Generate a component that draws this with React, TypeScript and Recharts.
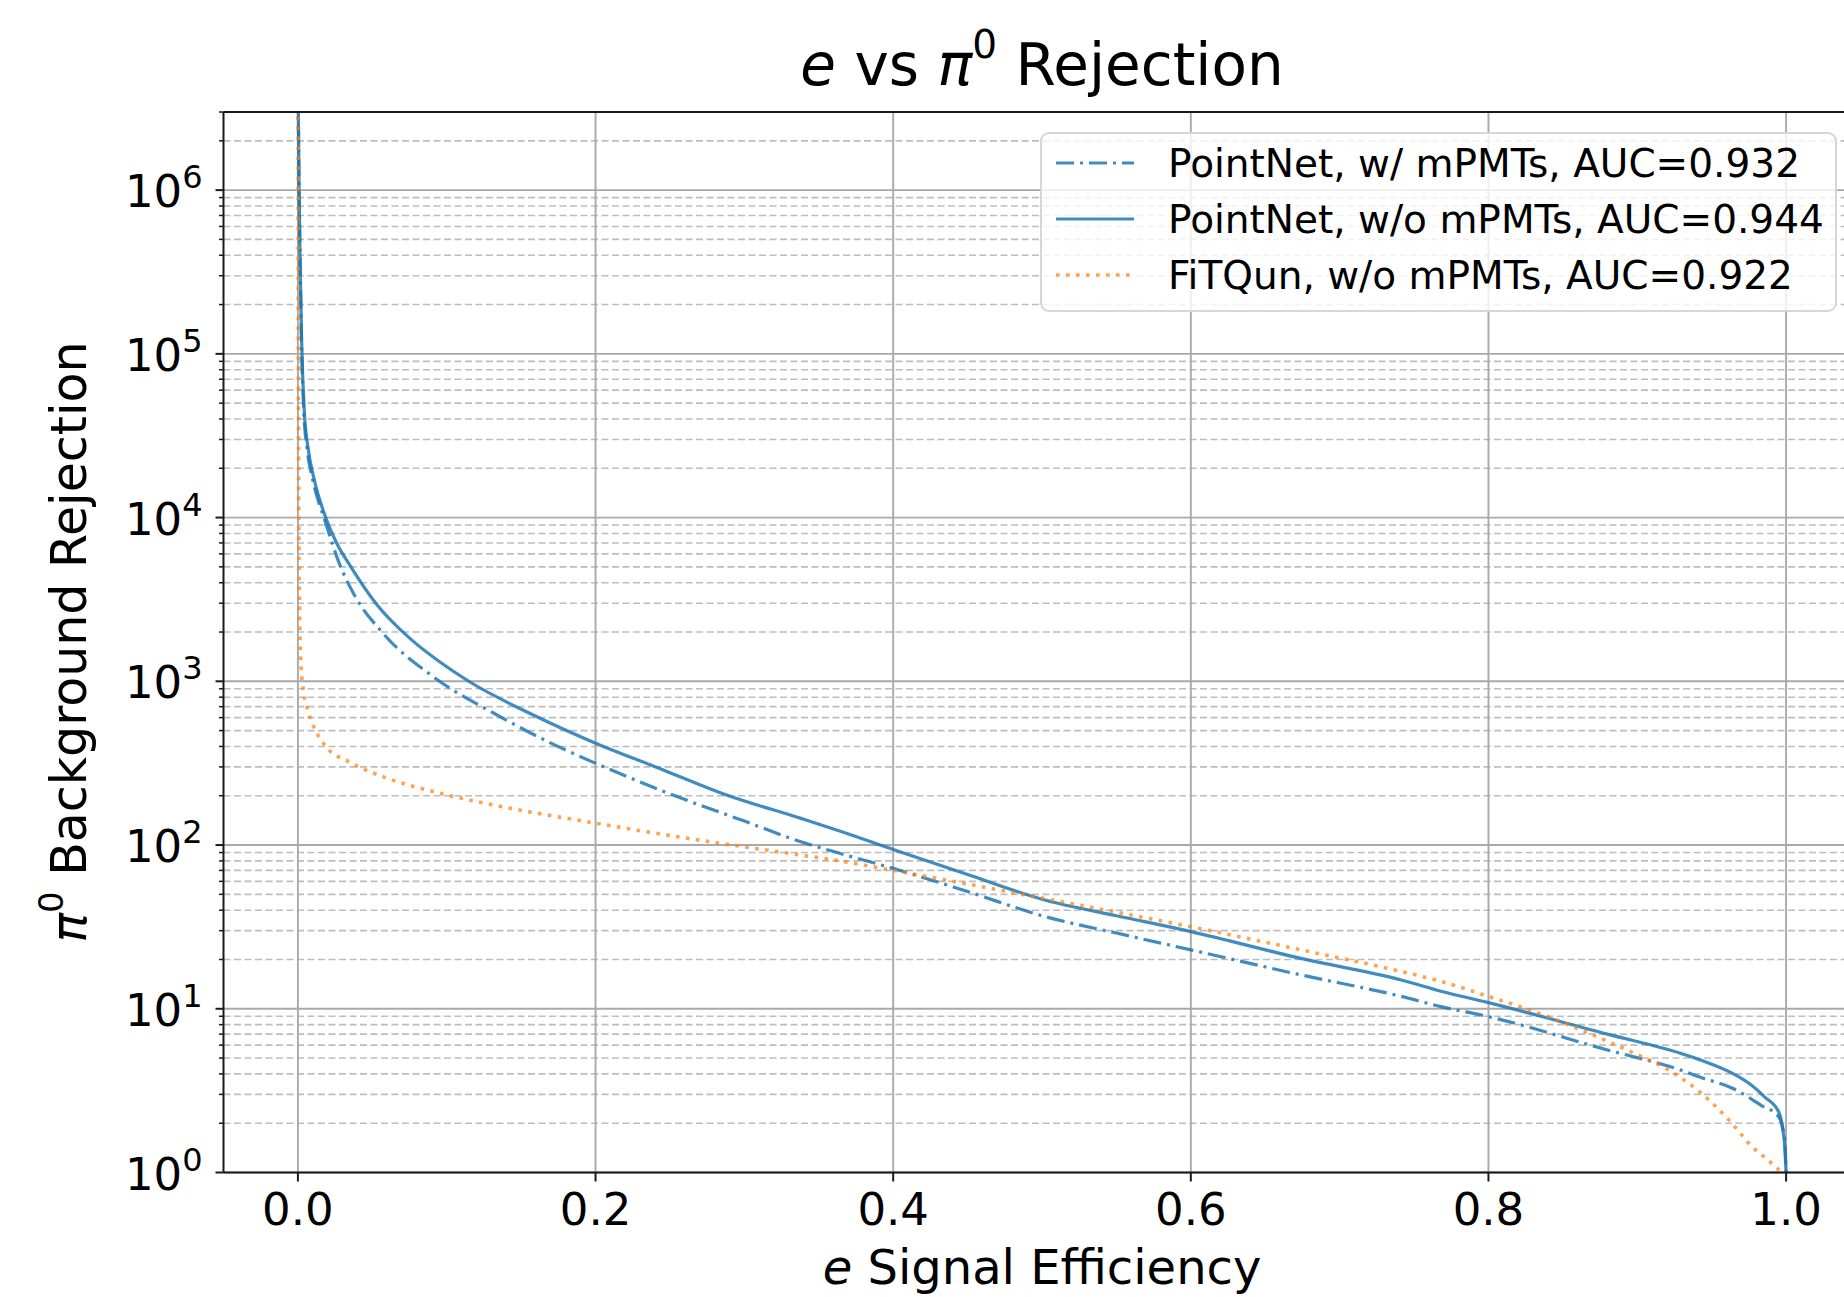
import React from 'react';
import { LineChart, Line, XAxis, YAxis, CartesianGrid, ReferenceLine, Legend } from 'recharts';

// ---------- data ----------
const seriesNames = [
  'PointNet, w/ mPMTs, AUC=0.932',
  'PointNet, w/o mPMTs, AUC=0.944',
  'FiTQun, w/o mPMTs, AUC=0.922',
];

// PointNet, w/ mPMTs (dash-dot)
const effWithMpmt = [0, 0.0003, 0.0008, 0.0015, 0.0024, 0.004, 0.0065, 0.01, 0.0187, 0.028, 0.0379, 0.0571, 0.0908, 0.1317, 0.175, 0.2, 0.252, 0.3, 0.3375, 0.364, 0.4, 0.45, 0.5024, 0.55, 0.6, 0.674, 0.7414, 0.768, 0.8, 0.88, 0.929, 0.943, 0.964, 0.977, 0.9824, 0.995, 0.999, 1.0];
const rejWithMpmt = [1e7, 3e6, 1e6, 3.5e5, 1.2e5, 4.4e4, 2.5e4, 1.7e4, 9250, 5200, 3370, 1970, 1069, 638, 399, 316, 202, 140, 105, 89, 72, 52, 36.5, 29, 22.9, 16.1, 11.9, 10.3, 8.95, 5.6, 4.23, 3.8, 3.27, 2.8, 2.6, 2.19, 1.6, 1.0];

// PointNet, w/o mPMTs (solid)
const effWithoutMpmt = [0, 0.0003, 0.0008, 0.0015, 0.0025, 0.0042, 0.007, 0.011, 0.018, 0.026, 0.0355, 0.0523, 0.0764, 0.095, 0.117, 0.1557, 0.2, 0.24, 0.288, 0.3375, 0.364, 0.4, 0.45, 0.5024, 0.55, 0.6, 0.674, 0.7414, 0.768, 0.8, 0.88, 0.929, 0.943, 0.9638, 0.977, 0.9855, 0.995, 0.9975, 0.9992, 1.0];
const rejWithoutMpmt = [1e7, 3e6, 1e6, 3.5e5, 1.2e5, 4.6e4, 2.6e4, 1.7e4, 1.04e4, 7000, 5020, 3000, 1790, 1320, 973, 638, 419, 301, 202, 146, 122, 94, 66, 46, 37, 29.6, 20.3, 15, 12.8, 10.9, 7.0, 5.35, 4.85, 4.04, 3.4, 2.9, 2.35, 1.9, 1.4, 1.0];

// FiTQun, w/o mPMTs (dotted)
const effFitqun = [0, 0.0003, 0.0006, 0.0012, 0.0022, 0.004, 0.007, 0.0114, 0.0187, 0.035, 0.059, 0.091, 0.131, 0.2, 0.276, 0.3375, 0.364, 0.4, 0.5024, 0.6, 0.674, 0.7414, 0.768, 0.8, 0.831, 0.8625, 0.898, 0.921, 0.943, 0.9635, 0.977, 0.9875, 0.997];
const rejFitqun = [1e7, 1e5, 1e4, 2500, 1200, 850, 650, 510, 400, 320, 258, 212, 176, 136, 105, 87, 80, 70, 47, 31.7, 22.9, 16.9, 14.7, 11.9, 9.6, 7.4, 5.35, 4.23, 3.05, 2.0, 1.44, 1.2, 1.0];

const xTicks = [0, 0.2, 0.4, 0.6, 0.8, 1.0];
const yMajorTicks = [1, 10, 100, 1000, 10000, 100000, 1000000];
const yExponents = ['0', '1', '2', '3', '4', '5', '6'];
const minorMultipliers = [2, 3, 4, 5, 6, 7, 8, 9];
const xDomain: [number, number] = [-0.05, 1.05];
const yDomain: [number, number] = [1, 3e6];

// ---------- styling ----------
const FONT = 'DejaVu Sans';
const BLUE = '#1f77b4';
const ORANGE = '#ff7f0e';
const SPINE = '#1a1a1a';

const yMinorTicks = yMajorTicks
  .flatMap((d) => minorMultipliers.map((m) => m * d))
  .filter((v) => v <= yDomain[1]);
const yAllTicks = [...yMajorTicks, ...yMinorTicks].sort((a, b) => a - b);

const toPoints = (xs: number[], ys: number[]) => xs.map((x, i) => ({ eff: x, rej: ys[i] }));

const series = [
  { name: seriesNames[0], data: toPoints(effWithMpmt, rejWithMpmt), color: BLUE, width: 3.2, dash: '18 6 3 6', opacity: 0.85 },
  { name: seriesNames[1], data: toPoints(effWithoutMpmt, rejWithoutMpmt), color: BLUE, width: 3.2, dash: undefined as string | undefined, opacity: 0.85 },
  { name: seriesNames[2], data: toPoints(effFitqun, rejFitqun), color: ORANGE, width: 3.6, dash: '3.6 6.4', opacity: 0.72 },
];

const XTick = (props: any) => {
  const { x, y, payload } = props;
  return (
    <g>
      <line x1={x} x2={x} y1={y} y2={y + 9} stroke={SPINE} strokeWidth={2} />
      <text x={x} y={y + 52} textAnchor="middle" fontFamily={FONT} fontSize={45} fill="#000">
        {Number(payload.value).toFixed(1)}
      </text>
    </g>
  );
};

const YTick = (props: any) => {
  const { x, y, payload } = props;
  const idx = yMajorTicks.indexOf(payload.value);
  const major = idx >= 0;
  return (
    <g>
      <line x1={x - (major ? 8 : 4.5)} x2={x} y1={y} y2={y} stroke={SPINE} strokeWidth={major ? 2 : 1.5} />
      {major && (
        <text x={x - 21} y={y + 17} textAnchor="end" fontFamily={FONT} fontSize={45} fill="#000">
          <tspan>10</tspan>
          <tspan dy={-19} fontSize={32}>{yExponents[idx]}</tspan>
        </text>
      )}
    </g>
  );
};

const LegendBox = () => (
  <div
    style={{
      width: 797,
      height: 180,
      boxSizing: 'border-box',
      border: '2px solid #d6d6d6',
      borderRadius: 9,
      background: 'rgba(255,255,255,0.8)',
      position: 'relative',
      fontFamily: FONT,
      fontSize: 39,
      color: '#000',
    }}
  >
    {series.map((s, i) => (
      <div
        key={s.name}
        style={{ position: 'absolute', left: 0, top: 1 + i * 56, height: 56, display: 'flex', alignItems: 'center', whiteSpace: 'nowrap' }}
      >
        <svg width={126} height={56} style={{ display: 'block' }}>
          <line x1={14} x2={92} y1={28} y2={28} stroke={s.color} strokeWidth={s.width} strokeDasharray={s.dash} strokeOpacity={s.opacity} />
        </svg>
        <span>{s.name}</span>
      </div>
    ))}
  </div>
);

const CHART_W = 1870;
const CHART_H = 1289;

export default function App() {
  return (
    <div style={{ position: 'fixed', left: 0, top: 0, width: 1844, height: 1297, overflow: 'hidden', background: '#fff' }}>
      <div style={{ position: 'absolute', left: 8, top: 8, width: CHART_W, height: CHART_H }}>
        <LineChart width={CHART_W} height={CHART_H} margin={{ top: 104, right: 17.5, bottom: 0, left: 0 }}>
          <CartesianGrid horizontalValues={yMinorTicks} vertical={false} stroke="#bdbdbd" strokeWidth={1.6} strokeDasharray="7 3.5" />
          <CartesianGrid horizontalValues={yMajorTicks} verticalValues={xTicks} stroke="#a9a9a9" strokeWidth={1.9} />
          <XAxis
            type="number"
            dataKey="eff"
            domain={xDomain}
            allowDataOverflow
            ticks={xTicks}
            interval={0}
            height={124.5}
            tickSize={0}
            tickMargin={0}
            tickLine={false}
            axisLine={{ stroke: SPINE, strokeWidth: 2 }}
            tick={(p: any) => <XTick {...p} />}
          />
          <YAxis
            type="number"
            dataKey="rej"
            scale="log"
            domain={yDomain}
            allowDataOverflow
            ticks={yAllTicks}
            interval={0}
            width={215.5}
            tickSize={0}
            tickMargin={0}
            tickLine={false}
            axisLine={{ stroke: SPINE, strokeWidth: 2 }}
            tick={(p: any) => <YTick {...p} />}
          />
          {series.map((s) => (
            <Line
              key={s.name}
              data={s.data}
              dataKey="rej"
              name={s.name}
              type="monotone"
              stroke={s.color}
              strokeWidth={s.width}
              strokeDasharray={s.dash}
              strokeOpacity={s.opacity}
              dot={false}
              activeDot={false}
              isAnimationActive={false}
            />
          ))}
          <ReferenceLine y={yDomain[1]} stroke={SPINE} strokeWidth={2} />
          <Legend
            layout="vertical"
            align="center"
            verticalAlign="middle"
            content={() => <LegendBox />}
            wrapperStyle={{ left: 1032, top: 124, width: 797, height: 180, margin: 0 }}
          />
        </LineChart>
        <svg width={CHART_W} height={CHART_H} style={{ position: 'absolute', left: 0, top: 0, pointerEvents: 'none' }}>
          <text x={1034} y={77} textAnchor="middle" fontFamily={FONT} fontSize={58} fill="#000">
            <tspan fontStyle="italic">e</tspan>
            <tspan>{' vs '}</tspan>
            <tspan fontStyle="italic">π</tspan>
            <tspan dy={-27} fontSize={39}>0</tspan>
            <tspan dy={27}>{' Rejection'}</tspan>
          </text>
          <text x={1034} y={1276} textAnchor="middle" fontFamily={FONT} fontSize={48} fill="#000">
            <tspan fontStyle="italic">e</tspan>
            <tspan>{' Signal Efficiency'}</tspan>
          </text>
          <text transform="rotate(-90)" x={-634} y={78} textAnchor="middle" fontFamily={FONT} fontSize={49} fill="#000">
            <tspan fontStyle="italic">π</tspan>
            <tspan dy={-23} fontSize={34}>0</tspan>
            <tspan dy={23}>{' Background Rejection'}</tspan>
          </text>
        </svg>
      </div>
    </div>
  );
}
